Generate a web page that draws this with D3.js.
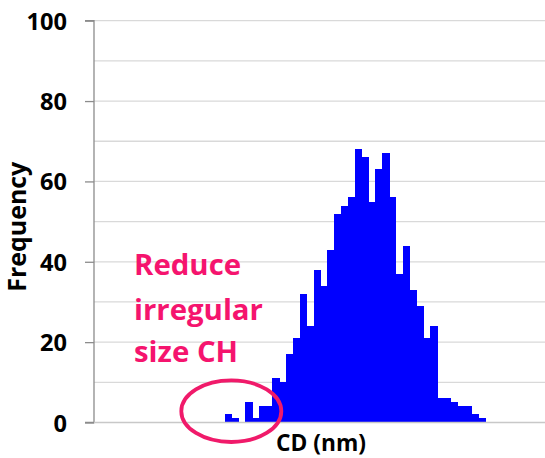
<!DOCTYPE html>
<html><head><meta charset="utf-8">
<script src="https://cdn.jsdelivr.net/npm/d3@7"></script>
<style>body{margin:0;background:#fff}svg{display:block}</style>
</head><body>
<script>
// Data (histogram bins, left to right)
const bins = d3.range(38);
const counts = [2,1,0,5,1,4,4,11,10,17,21,32,24,38,34,43,52,54,56,68,66,55,63,67,56,37,44,33,29,21,24,6,6,5,4,4,2,1];
const yTicks = [0,20,40,60,80,100];
const gridValues = [10,20,30,40,50,60,70,80,90,100];
const xLabel = "CD (nm)";
const yLabel = "Frequency";
const noteLines = ["Reduce","irregular","size CH"];

const W = 545, H = 458;
const svg = d3.select("body").append("svg").attr("width", W).attr("height", H);
const font = "'Open Sans', 'Noto Sans', sans-serif";

// size a text so that its rendered width equals target
function fitSize(str, target, weight) {
  const t = svg.append("text").attr("font-family",font).attr("font-weight",weight||"bold")
    .attr("font-size",100).text(str);
  const w = t.node().getComputedTextLength();
  t.remove();
  return 100*target/w;
}

const y = d3.scaleLinear().domain([0,100]).range([422.5,20.7]);
const x = d3.scaleLinear().domain([0,38]).range([224.5,485]);
const axisX = 94;

// gridlines
svg.append("g").selectAll("line").data(gridValues).join("line")
  .attr("x1", axisX).attr("x2", W).attr("y1", d=>y(d)).attr("y2", d=>y(d))
  .attr("stroke","#d9d9d9").attr("stroke-width",1.3);

// bars
svg.append("g").attr("shape-rendering","crispEdges")
  .selectAll("rect").data(bins.filter(i=>counts[i]>0)).join("rect")
  .attr("x", i=>x(i)).attr("width", i=>x(i+1)-x(i)+0.6)
  .attr("y", i=>y(counts[i])).attr("height", i=>y(0)-y(counts[i]))
  .attr("fill","#0000ff");

// y axis
const tickFs = fitSize("100", 40.5);
const yAxis = d3.axisLeft(y).tickValues(yTicks).tickSize(9).tickPadding(18).tickFormat(d3.format("d"));
const ga = svg.append("g").attr("transform",`translate(${axisX},0)`).call(yAxis);
ga.select(".domain").attr("stroke","#8c8c8c").attr("stroke-width",1.3).attr("d",`M-9,${y(100)}H0V${y(0)}H-9`);
ga.selectAll(".tick line").attr("stroke","#8c8c8c").attr("stroke-width",1.3);
ga.selectAll(".tick text").attr("font-family",font).attr("font-weight","bold").attr("font-size",tickFs)
  .attr("fill","#000").attr("dy","0.36em");

// baseline
svg.append("line").attr("x1",axisX).attr("x2",W).attr("y1",y(0)).attr("y2",y(0))
  .attr("stroke","#c8c8c8").attr("stroke-width",1.3);

// axis titles
svg.append("text").attr("x",321).attr("y",450.5).attr("text-anchor","middle")
  .attr("font-family",font).attr("font-weight","bold").attr("font-size",fitSize(xLabel,90)).text(xLabel);
svg.append("text").attr("transform","translate(26,226.7) rotate(-90)").attr("text-anchor","middle")
  .attr("font-family",font).attr("font-weight","bold").attr("font-size",fitSize(yLabel,130)).text(yLabel);

// annotation
const noteFs = fitSize("irregular", 129);
svg.append("g").selectAll("text").data(noteLines).join("text")
  .attr("x",134).attr("y",(d,i)=>[275,319.5,362][i])
  .attr("font-family",font).attr("font-weight","bold").attr("font-size",noteFs).attr("fill","#f5146e").text(d=>d);
svg.append("ellipse").attr("cx",231.3).attr("cy",411.2).attr("rx",50).attr("ry",30.8)
  .attr("fill","none").attr("stroke","#f01a6a").attr("stroke-width",3.8);
</script>
</body></html>
